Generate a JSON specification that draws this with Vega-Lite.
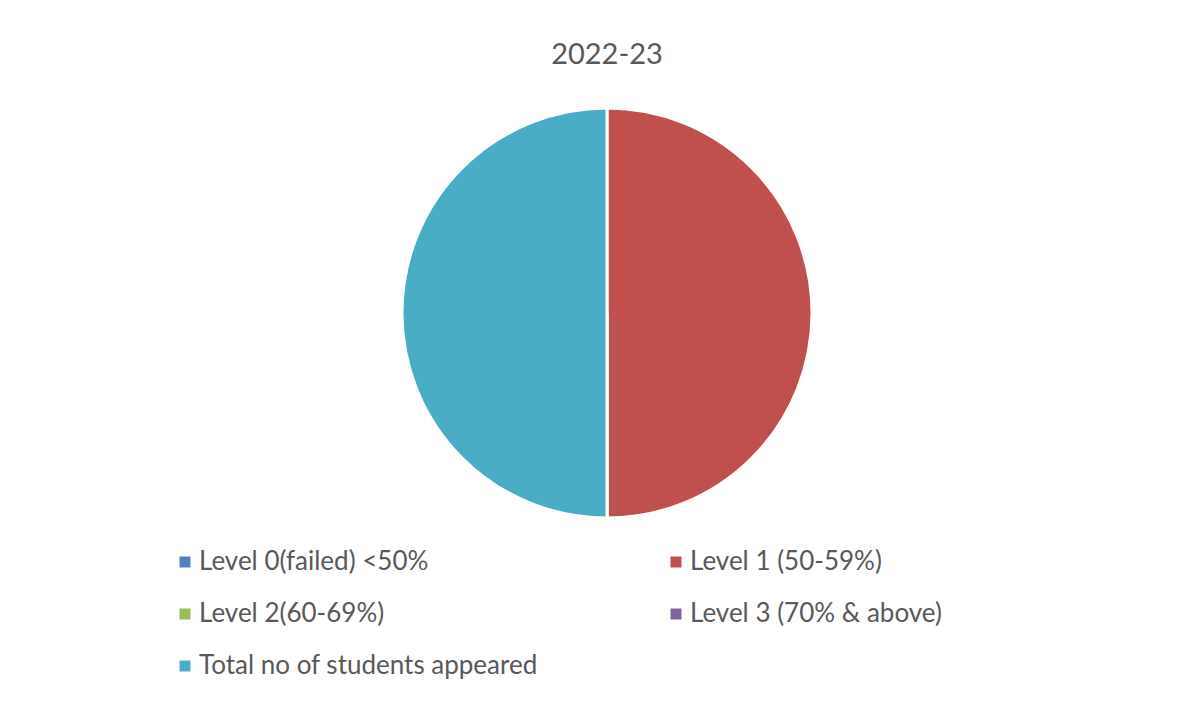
{
  "$schema": "https://vega.github.io/schema/vega-lite/v6.json",
  "width": 410,
  "height": 410,
  "autosize": {"type": "none"},
  "padding": {"left": 402, "top": 108, "right": 378, "bottom": 187},
  "background": "white",
  "config": {"view": {"stroke": null}, "font": "Lato"},
  "title": {"text": "2022-23", "font": "Lato", "fontSize": 29, "fontWeight": "normal", "color": "#595959", "anchor": "middle", "offset": 32},
  "data": {
    "values": [
      {"category": "Level 0(failed) <50%", "value": 0},
      {"category": "Level 1 (50-59%)", "value": 60},
      {"category": "Level 2(60-69%)", "value": 0},
      {"category": "Level 3 (70% & above)", "value": 0},
      {"category": "Total no of students appeared", "value": 60}
    ]
  },
  "mark": {"type": "arc", "stroke": "white", "strokeWidth": 3},
  "encoding": {
    "theta": {"field": "value", "type": "quantitative", "stack": true},
    "color": {
      "field": "category",
      "type": "nominal",
      "sort": ["Level 0(failed) <50%", "Level 1 (50-59%)", "Level 2(60-69%)", "Level 3 (70% & above)", "Total no of students appeared"],
      "scale": {
        "domain": ["Level 0(failed) <50%", "Level 1 (50-59%)", "Level 2(60-69%)", "Level 3 (70% & above)", "Total no of students appeared"],
        "range": ["#4F81BD", "#C0504D", "#9BBB59", "#8064A2", "#4BACC6"]
      },
      "legend": {
        "title": null,
        "orient": "none",
        "direction": "horizontal",
        "legendX": -230,
        "legendY": 441,
        "columns": 2,
        "columnPadding": 125,
        "rowPadding": 26,
        "symbolType": "square",
        "symbolSize": 121,
        "symbolStrokeWidth": 0,
        "symbolOffset": 0,
        "labelOffset": 1,
        "labelFont": "Lato",
        "labelFontSize": 26,
        "labelColor": "#595959",
        "labelLimit": 500
      }
    }
  }
}
